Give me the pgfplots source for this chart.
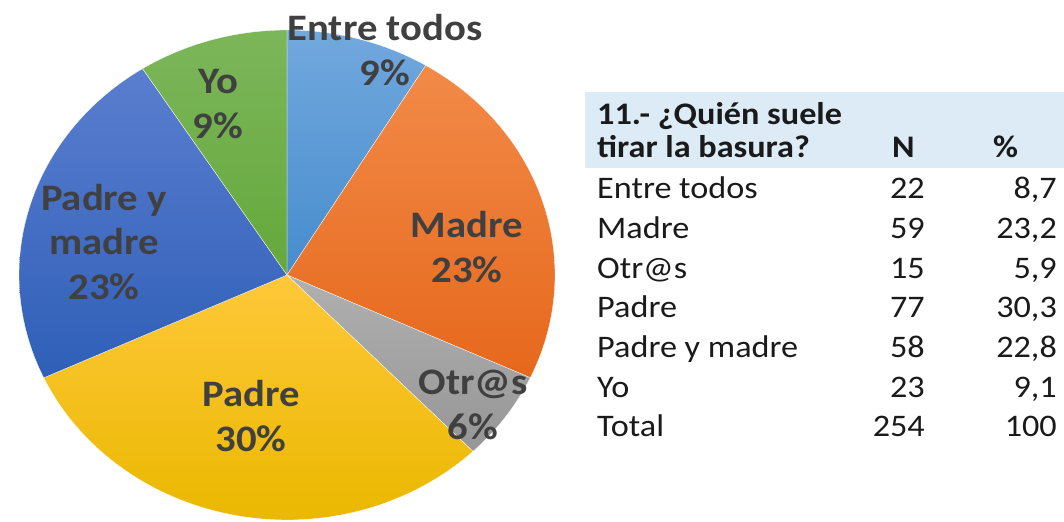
\documentclass[border=0pt]{standalone}
\usepackage{pgfplots}
\pgfplotsset{compat=1.18}
\usepackage{fontspec}
\setmainfont{Carlito}[FakeStretch=1.09]
\definecolor{lbl}{HTML}{404040}
\definecolor{hdr}{HTML}{DDEBF7}
\definecolor{txt}{HTML}{1A1A1A}
\definecolor{c1t}{RGB}{114,168,222}\definecolor{c1b}{RGB}{70,140,205}
\definecolor{c2t}{RGB}{242,138,72}\definecolor{c2b}{RGB}{230,104,28}
\definecolor{c3t}{RGB}{176,176,176}\definecolor{c3b}{RGB}{150,150,150}
\definecolor{c4t}{RGB}{255,200,58}\definecolor{c4b}{RGB}{234,184,0}
\definecolor{c5t}{RGB}{90,126,207}\definecolor{c5b}{RGB}{47,95,184}
\definecolor{c6t}{RGB}{124,182,90}\definecolor{c6b}{RGB}{101,168,59}
% counts (N)
\def\nEntre{22}
\def\nMadre{59}
\def\nOtros{15}
\def\nPadre{77}
\def\nPyM{58}
\def\nYo{23}
\def\nTot{254}
\begin{document}
\begin{tikzpicture}[x=1bp,y=1bp]
\useasboundingbox (0,0) rectangle (1064,-522);
\pgfmathsetmacro{\aA}{90-\nEntre/\nTot*360}
\pgfmathsetmacro{\aB}{\aA-\nMadre/\nTot*360}
\pgfmathsetmacro{\aC}{\aB-\nOtros/\nTot*360}
\pgfmathsetmacro{\aD}{\aC-\nPadre/\nTot*360}
\pgfmathsetmacro{\aE}{\aD-\nPyM/\nTot*360}
\pgfmathsetmacro{\aF}{\aE-\nYo/\nTot*360}
\begin{axis}[at={(287bp,-275bp)}, anchor=origin, scale only axis,
  width=536bp, height=490bp, xmin=-1, xmax=1, ymin=-1, ymax=1,
  hide axis, clip=false]
\addplot[draw=white, line width=0.3pt, top color=c1t, bottom color=c1b, domain=\aA:90, samples=40, variable=\t] ({cos(\t)},{sin(\t)}) -- (axis cs:0,0) -- cycle;
\addplot[draw=white, line width=0.3pt, top color=c2t, bottom color=c2b, domain=\aB:\aA, samples=60, variable=\t] ({cos(\t)},{sin(\t)}) -- (axis cs:0,0) -- cycle;
\addplot[draw=white, line width=0.3pt, top color=c3t, bottom color=c3b, domain=\aC:\aB, samples=30, variable=\t] ({cos(\t)},{sin(\t)}) -- (axis cs:0,0) -- cycle;
\addplot[draw=white, line width=0.3pt, top color=c4t, bottom color=c4b, domain=\aD:\aC, samples=60, variable=\t] ({cos(\t)},{sin(\t)}) -- (axis cs:0,0) -- cycle;
\addplot[draw=white, line width=0.3pt, top color=c5t, bottom color=c5b, domain=\aE:\aD, samples=60, variable=\t] ({cos(\t)},{sin(\t)}) -- (axis cs:0,0) -- cycle;
\addplot[draw=white, line width=0.3pt, top color=c6t, bottom color=c6b, domain=\aF:\aE, samples=30, variable=\t] ({cos(\t)},{sin(\t)}) -- (axis cs:0,0) -- cycle;
\end{axis}
% pie labels
\tikzset{pl/.style={text=lbl, align=center, font=\fontsize{37.5}{45}\selectfont\bfseries, inner sep=0pt}}
\node[pl] at (385,-50) {Entre todos\\9\%};
\node[pl] at (467,-247) {Madre\\23\%};
\node[pl] at (473,-405) {Otr@s\\6\%};
\node[pl] at (251,-416) {Padre\\30\%};
\node[pl] at (104,-242) {Padre y\\madre\\23\%};
\node[pl] at (218,-104) {Yo\\9\%};
% table
\fill[hdr] (585,-92) rectangle (1064,-168);
\tikzset{tb/.style={text=txt, font=\fontsize{31.5}{39}\selectfont, inner sep=0pt},
         th/.style={text=txt, font=\fontsize{31.5}{39}\selectfont\bfseries, inner sep=0pt}}
\node[th, anchor=base west] at (597,-125) {11.- ¿Quién suele};
\node[th, anchor=base west] at (597,-158) {tirar la basura?};
\node[th, anchor=base west] at (892,-158) {N};
\node[th, anchor=base west] at (993,-158) {\%};
\foreach \lab/\n/\p [count=\i from 0] in {Entre todos/22/{8,7}, Madre/59/{23,2}, Otr@s/15/{5,9}, Padre/77/{30,3}, Padre y madre/58/{22,8}, Yo/23/{9,1}, Total/254/100}{
  \pgfmathsetmacro{\yy}{-199-39.6*\i}
  \node[tb, anchor=base west] at (597,\yy) {\lab};
  \node[tb, anchor=base east] at (925,\yy) {\n};
  \node[tb, anchor=base east] at (1057,\yy) {\p};
}
\end{tikzpicture}
\end{document}
